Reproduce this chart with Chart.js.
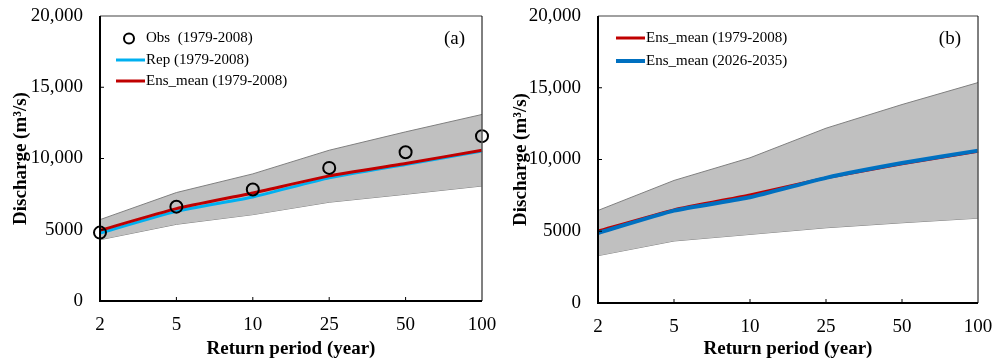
<!DOCTYPE html>
<html>
<head>
<meta charset="utf-8">
<script src="https://cdn.jsdelivr.net/npm/chart.js@4/dist/chart.umd.min.js"></script>
<style>
  body { margin: 0; background: #fff; }
  canvas { position: absolute; top: 0; }
</style>
</head>
<body>
<canvas id="chartA" width="500" height="362" style="left:0"></canvas>
<canvas id="chartB" width="493" height="362" style="left:500px"></canvas>
<script>
// return periods and y tick labels
var periods = ['2', '5', '10', '25', '50', '100'];
var yTickLabels = ['0', '5000', '10,000', '15,000', '20,000'];

// panel (a)
var obsA = [4800, 6620, 7820, 9340, 10440, 11570];
var repA = [4770, 6290, 7300, 8640, 9580, 10530];
var ensA = [4960, 6480, 7580, 8780, 9650, 10580];
var upperA = [5710, 7610, 8920, 10580, 11870, 13090];
var lowerA = [4300, 5380, 6060, 6930, 7490, 8070];

// panel (b)
var ensPast = [5010, 6490, 7530, 8720, 9700, 10570];
var ensFuture = [4880, 6440, 7370, 8720, 9750, 10620];
var upperB = [6450, 8540, 10120, 12180, 13830, 15360];
var lowerB = [3300, 4320, 4780, 5240, 5590, 5910];

var serif = '"Liberation Serif", "Times New Roman", serif';

// draws frame, inner ticks, legend and panel letter
var decor = {
  id: 'decor',
  afterDatasetsDraw: function(chart, args, opts) {
    var ctx = chart.ctx, a = chart.chartArea;
    var x = chart.scales.x, y = chart.scales.y;
    ctx.save();
    // top (gray) and right (black) borders
    ctx.lineWidth = 1.5;
    ctx.strokeStyle = '#808080';
    ctx.beginPath();
    ctx.moveTo(a.left, a.top);
    ctx.lineTo(a.right, a.top);
    ctx.stroke();
    ctx.lineWidth = 1;
    ctx.strokeStyle = '#000';
    ctx.beginPath();
    ctx.moveTo(a.right, a.top);
    ctx.lineTo(a.right, a.bottom);
    ctx.stroke();
    // gray right edge of the band
    ctx.strokeStyle = '#808080';
    ctx.beginPath();
    ctx.moveTo(a.right, y.getPixelForValue(opts.edgeTop));
    ctx.lineTo(a.right, a.bottom);
    ctx.stroke();
    // axes
    ctx.strokeStyle = '#000';
    ctx.lineWidth = 2;
    ctx.beginPath();
    ctx.moveTo(a.left, a.top);
    ctx.lineTo(a.left, a.bottom);
    ctx.lineTo(a.right, a.bottom);
    ctx.stroke();
    ctx.lineWidth = 1;
    ctx.beginPath();
    for (var i = 1; i < periods.length - 1; i++) {
      var px = x.getPixelForValue(i);
      ctx.moveTo(px, a.bottom);
      ctx.lineTo(px, a.bottom - 4);
    }
    for (var v = 5000; v < 20000; v += 5000) {
      var py = y.getPixelForValue(v);
      ctx.moveTo(a.left, py);
      ctx.lineTo(a.left + 4, py);
    }
    ctx.stroke();
    // legend
    ctx.font = '15px ' + serif;
    ctx.textBaseline = 'middle';
    ctx.fillStyle = '#000';
    opts.legend.forEach(function(it) {
      if (it.circle) {
        ctx.strokeStyle = '#000';
        ctx.lineWidth = 2;
        ctx.beginPath();
        ctx.arc(it.x + 13, it.y, 5, 0, Math.PI * 2);
        ctx.stroke();
      } else {
        ctx.strokeStyle = it.color;
        ctx.lineWidth = it.w;
        ctx.beginPath();
        ctx.moveTo(it.x, it.y);
        ctx.lineTo(it.x + 29, it.y);
        ctx.stroke();
      }
      ctx.fillText(it.text, it.x + 30, it.y);
    });
    ctx.font = '19px ' + serif;
    ctx.textAlign = 'right';
    ctx.fillText(opts.letter, a.right - 17, a.top + 23);
    ctx.restore();
  }
};

function makeOptions(yWidth, rightPad, xHeight, edgeTop, letter, legend) {
  return {
    responsive: false,
    animation: false,
    layout: { padding: { left: 0, right: rightPad, top: 16, bottom: 0 } },
    elements: { point: { radius: 0 } },
    plugins: {
      legend: { display: false },
      tooltip: { enabled: false },
      decor: { edgeTop: edgeTop, letter: letter, legend: legend }
    },
    scales: {
      x: {
        type: 'category',
        offset: false,
        grid: { display: false, drawTicks: false },
        border: { display: false },
        ticks: { color: '#000', padding: 13, maxRotation: 0, font: { family: serif, size: 19 } },
        title: { display: true, text: 'Return period (year)', color: '#000', padding: { top: 0, bottom: 2 },
                 font: { family: serif, size: 19, weight: 'bold' } },
        afterFit: function(s) {
          s.height = xHeight;
          s.paddingLeft = 0; s.paddingRight = 0;
        }
      },
      y: {
        min: 0, max: 20000,
        grid: { display: false, drawTicks: false },
        border: { display: false },
        ticks: {
          stepSize: 5000, color: '#000', padding: 17,
          font: { family: serif, size: 19 },
          callback: function(v, i) { return yTickLabels[i]; }
        },
        title: { display: true, text: 'Discharge (m³/s)', color: '#000', padding: { top: 10, bottom: 0 },
                 font: { family: serif, size: 19, weight: 'bold' } },
        afterFit: function(s) {
          s.width = yWidth;
          s.paddingTop = 0; s.paddingBottom = 0;
        }
      }
    }
  };
}

function band(upper, lower) {
  return [
    { data: upper, fill: '+1', backgroundColor: '#c0c0c0', borderColor: '#808080', borderWidth: 1, tension: 0, order: 10 },
    { data: lower, fill: false, borderColor: '#808080', borderWidth: 1, tension: 0, order: 11 }
  ];
}

new Chart(document.getElementById('chartA'), {
  type: 'line',
  data: {
    labels: periods,
    datasets: band(upperA, lowerA).concat([
      { data: repA, borderColor: '#00b0f0', borderWidth: 3, tension: 0.15, fill: false, order: 3 },
      { data: ensA, borderColor: '#c00000', borderWidth: 3, tension: 0.15, fill: false, order: 2 },
      { data: obsA, showLine: false, pointRadius: 6, pointStyle: 'circle', pointBorderWidth: 2,
        pointBorderColor: '#000', pointBackgroundColor: 'rgba(0,0,0,0)', order: 1 }
    ])
  },
  options: makeOptions(100, 18, 61, upperA[5], '(a)', [
    { circle: true, x: 116, y: 38.5, text: 'Obs  (1979-2008)' },
    { x: 116, y: 60, color: '#00b0f0', w: 3, text: 'Rep (1979-2008)' },
    { x: 116, y: 81, color: '#c00000', w: 3, text: 'Ens_mean (1979-2008)' }
  ]),
  plugins: [decor]
});

new Chart(document.getElementById('chartB'), {
  type: 'line',
  data: {
    labels: periods,
    datasets: band(upperB, lowerB).concat([
      { data: ensPast, borderColor: '#c00000', borderWidth: 3, tension: 0.15, fill: false, order: 3 },
      { data: ensFuture, borderColor: '#0070c0', borderWidth: 4, tension: 0.15, fill: false, order: 2 }
    ])
  },
  options: makeOptions(98, 15, 59, upperB[5], '(b)', [
    { x: 116, y: 38, color: '#c00000', w: 3, text: 'Ens_mean (1979-2008)' },
    { x: 116, y: 61, color: '#0070c0', w: 4, text: 'Ens_mean (2026-2035)' }
  ]),
  plugins: [decor]
});
</script>
</body>
</html>
